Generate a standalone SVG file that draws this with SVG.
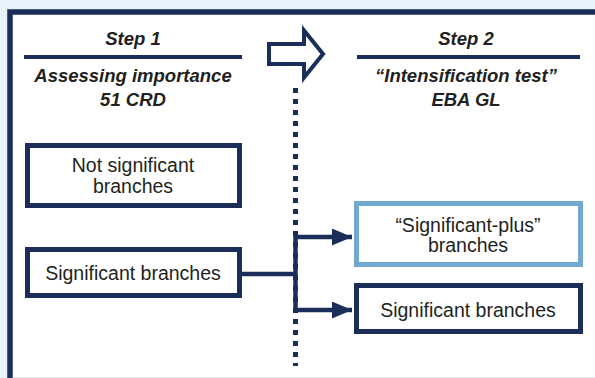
<svg xmlns="http://www.w3.org/2000/svg" width="595" height="378" viewBox="0 0 595 378">
<defs>
<style>
.title{font-family:"Liberation Sans",Arial,sans-serif;font-weight:bold;font-style:italic;font-size:18.5px;fill:#231F20;text-anchor:middle}
.lbl{font-family:"Liberation Sans",Arial,sans-serif;font-size:19.5px;fill:#231F20;text-anchor:middle}
.box{fill:#FFFFFF;stroke:#1B2E59;stroke-width:5}
.boxl{fill:#FFFFFF;stroke:#72A9CF;stroke-width:5}
.conn{fill:none;stroke:#1B2E59;stroke-width:4.5}
.rule{stroke:#1B2E59;stroke-width:4}
</style>
<marker id="ah" markerUnits="userSpaceOnUse" markerWidth="22" markerHeight="18" refX="20" refY="8.5" orient="auto">
<path d="M0,0 L20,8.5 L0,17 Z" fill="#1B2E59"/>
</marker>
</defs>
<rect x="0" y="0" width="595" height="378" fill="#E8F2F9"/>
<rect x="10" y="12" width="600" height="380" fill="#FFFFFF" stroke="#1B2E59" stroke-width="5.5"/>
<line x1="13" y1="377.5" x2="595" y2="377.5" stroke="#E6E6E6" stroke-width="1"/>
<g id="step1">
<text class="title" x="133" y="45">Step 1</text>
<line class="rule" x1="24" y1="57" x2="242" y2="57"/>
<text class="title" x="133" y="82">Assessing importance</text>
<text class="title" x="133" y="106">51 CRD</text>
</g>
<g id="step2">
<text class="title" x="466" y="45">Step 2</text>
<line class="rule" x1="357" y1="57" x2="580" y2="57"/>
<text class="title" x="466" y="82">“Intensification test”</text>
<text class="title" x="466" y="106">EBA GL</text>
</g>
<g id="block-arrow">
<path d="M269,44 L304,44 L304,30.5 L323,54 L304,77.5 L304,64 L269,64 Z" fill="#FFFFFF" stroke="#1B2E59" stroke-width="4" stroke-linejoin="miter"/>
</g>
<g id="divider">
<line x1="295.5" y1="88" x2="295.5" y2="366" stroke="#1B2E59" stroke-width="5" stroke-dasharray="5 6"/>
</g>
<g id="connectors">
<line class="conn" x1="242" y1="274" x2="295.5" y2="274"/>
<line class="conn" x1="295.5" y1="234.8" x2="295.5" y2="312.2"/>
<line class="conn" x1="295.5" y1="237" x2="352" y2="237" marker-end="url(#ah)"/>
<line class="conn" x1="295.5" y1="310" x2="352" y2="310" marker-end="url(#ah)"/>
</g>
<g id="not-significant">
<rect class="box" x="27.5" y="145.5" width="212" height="60"/>
<text class="lbl" x="133" y="172">Not significant</text>
<text class="lbl" x="133" y="193">branches</text>
</g>
<g id="significant-left">
<rect class="box" x="27.5" y="249.5" width="212" height="46"/>
<text class="lbl" x="133" y="280">Significant branches</text>
</g>
<g id="significant-plus">
<rect class="boxl" x="356.5" y="203.5" width="224" height="61"/>
<text class="lbl" x="468" y="232">“Significant-plus”</text>
<text class="lbl" x="468" y="252">branches</text>
</g>
<g id="significant-right">
<rect class="box" x="356.5" y="285.5" width="224" height="46"/>
<text class="lbl" x="468" y="317">Significant branches</text>
</g>
</svg>
